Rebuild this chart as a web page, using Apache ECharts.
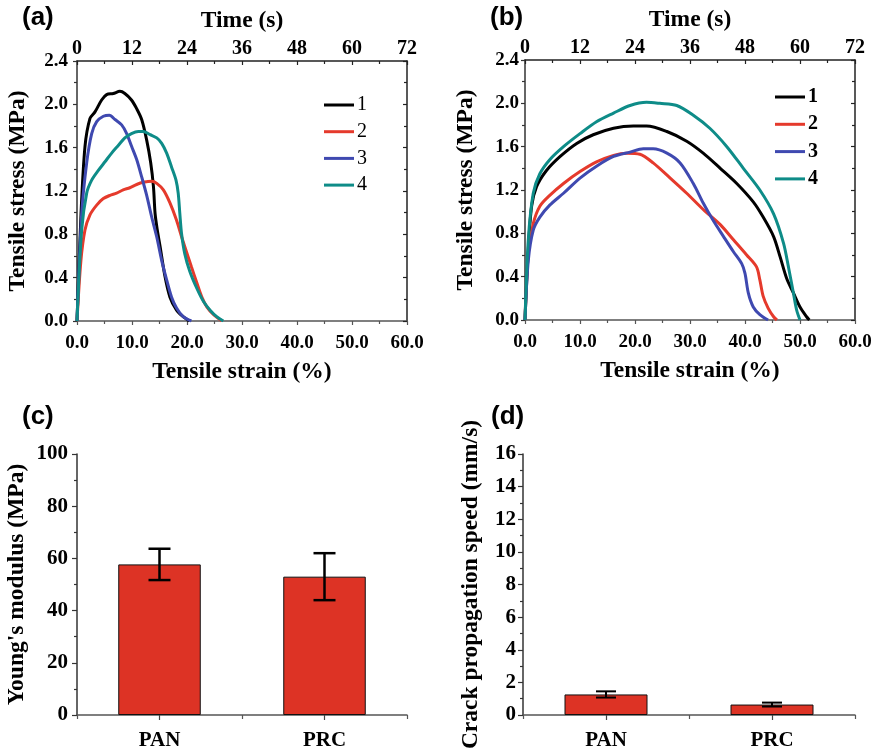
<!DOCTYPE html>
<html>
<head>
<meta charset="utf-8">
<script src="https://cdn.jsdelivr.net/npm/echarts@6/dist/echarts.min.js"></script>
<style>
html,body{margin:0;padding:0;background:#fff;}
#chart{width:877px;height:756px;}
</style>
</head>
<body>
<div id="chart"></div>
<script>
// ---------- Data ----------
var seriesNames = ['1', '2', '3', '4'];
var seriesColors = ['#000000', '#E53A2C', '#3F49B0', '#0E8C88'];

// Panel (a)
var a1Strain = [0, 0.73, 1.45, 2.36, 3.27, 4.48, 5.39, 6.6, 7.8, 8.7, 9.9, 10.85, 11.76, 12.67, 13.4, 13.9, 14.2, 14.6, 15.1, 16.0, 16.9, 18.1, 19.3, 20.4];
var a1Stress = [0, 0.99, 1.61, 1.87, 1.93, 2.04, 2.09, 2.10, 2.12, 2.10, 2.04, 1.96, 1.86, 1.67, 1.46, 1.24, 0.99, 0.84, 0.69, 0.41, 0.22, 0.10, 0.04, 0];
var a2Strain = [0, 0.7, 1.45, 2.36, 3.58, 4.79, 6.0, 7.2, 8.4, 9.6, 10.85, 12.06, 13.6, 14.5, 15.7, 16.9, 18.1, 19.0, 19.9, 20.8, 21.8, 22.7, 23.6, 24.8, 26.3];
var a2Stress = [0, 0.55, 0.84, 0.98, 1.07, 1.13, 1.16, 1.18, 1.21, 1.23, 1.26, 1.28, 1.29, 1.27, 1.21, 1.09, 0.93, 0.78, 0.64, 0.50, 0.35, 0.22, 0.13, 0.06, 0];
var a3Strain = [0, 0.85, 1.76, 2.67, 3.58, 4.79, 5.88, 6.91, 8.12, 9.03, 9.94, 10.85, 11.76, 12.67, 13.58, 14.48, 15.39, 16.3, 17.2, 18.1, 19.3, 20.8];
var a3Stress = [0, 0.99, 1.46, 1.73, 1.84, 1.89, 1.90, 1.86, 1.81, 1.73, 1.61, 1.49, 1.33, 1.16, 0.96, 0.78, 0.56, 0.38, 0.22, 0.12, 0.04, 0];
var a4Strain = [0, 0.85, 1.76, 2.67, 3.88, 5.09, 6.3, 7.5, 8.7, 9.9, 11.15, 12.06, 13.3, 14.5, 15.4, 16.3, 17.2, 18.0, 18.4, 18.7, 19.0, 19.6, 20.5, 21.8, 23.0, 24.2, 25.4, 26.6];
var a4Stress = [0, 0.84, 1.18, 1.30, 1.39, 1.47, 1.55, 1.62, 1.69, 1.73, 1.75, 1.75, 1.72, 1.69, 1.64, 1.55, 1.42, 1.30, 1.18, 0.99, 0.81, 0.62, 0.46, 0.30, 0.18, 0.10, 0.04, 0];

// Panel (b)
var b1Strain = [0, 0.6, 1.2, 2.1, 3.9, 6.4, 9.4, 12.4, 16.1, 19.7, 22.1, 25.8, 29.4, 32.4, 35.5, 38.5, 41.5, 43.3, 45.2, 46.4, 47.6, 48.8, 50.0, 51.2, 51.7];
var b1Stress = [0, 0.65, 1.05, 1.23, 1.38, 1.51, 1.63, 1.71, 1.77, 1.79, 1.79, 1.74, 1.65, 1.54, 1.40, 1.26, 1.09, 0.95, 0.77, 0.58, 0.38, 0.25, 0.12, 0.03, 0];
var b2Strain = [0, 0.6, 1.5, 2.7, 4.5, 7.0, 10.0, 13.0, 16.1, 18.5, 20.9, 23.3, 26.4, 29.4, 32.4, 35.5, 37.9, 40.3, 42.1, 42.7, 43.3, 44.2, 45.2, 45.8];
var b2Stress = [0, 0.62, 0.89, 1.05, 1.15, 1.26, 1.37, 1.46, 1.52, 1.54, 1.53, 1.45, 1.31, 1.17, 1.02, 0.88, 0.74, 0.60, 0.49, 0.37, 0.22, 0.11, 0.03, 0];
var b3Strain = [0, 0.6, 1.5, 2.7, 4.5, 7.0, 10.0, 13.0, 16.1, 19.1, 21.5, 23.3, 25.8, 28.2, 30.6, 32.4, 34.2, 36.1, 37.9, 39.4, 40.0, 40.6, 41.5, 42.7, 44.2];
var b3Stress = [0, 0.55, 0.83, 0.95, 1.06, 1.17, 1.31, 1.42, 1.51, 1.55, 1.58, 1.58, 1.54, 1.45, 1.26, 1.08, 0.92, 0.77, 0.63, 0.52, 0.43, 0.25, 0.12, 0.05, 0];
var b4Strain = [0, 0.6, 1.5, 2.7, 4.5, 7.0, 10.0, 13.0, 16.1, 19.1, 22.1, 24.5, 27.6, 30.6, 33.6, 36.7, 39.7, 42.7, 45.2, 47.0, 47.9, 48.8, 49.4, 50.0];
var b4Stress = [0, 0.74, 1.17, 1.35, 1.48, 1.60, 1.72, 1.83, 1.91, 1.98, 2.01, 2.00, 1.98, 1.89, 1.77, 1.60, 1.40, 1.20, 0.98, 0.71, 0.49, 0.25, 0.09, 0];

// Panels (c) and (d)
var barCategories = ['PAN', 'PRC'];
var modulusMean = [57.7, 53.0];
var modulusErr = [6.0, 9.0];
var crackMean = [1.26, 0.64];
var crackErr = [0.19, 0.12];

// Tick settings
var strainMax = 60, strainStep = 10;
var timeMax = 72, timeStep = 12;
var stressMax = 2.4, stressStep = 0.4;
var modulusMax = 100, modulusStep = 20;
var crackMax = 16, crackStep = 2;

// ---------- Helpers ----------
function pairs(xs, ys) { return xs.map(function (x, i) { return [x, ys[i]]; }); }
var SERIF = '"Liberation Serif", "Times New Roman", serif';
var SANS = '"Liberation Sans", Arial, sans-serif';
var labelStyle = { fontFamily: SERIF, fontWeight: 'bold', fontSize: 19, color: '#000' };
var nameStyle = { fontFamily: SERIF, fontWeight: 'bold', fontSize: 23.5, color: '#000' };

function bottomValueAxis(grid, max, step) {
  return {
    type: 'value', gridIndex: grid, position: 'bottom', min: 0, max: max, interval: step,
    name: 'Tensile strain (%)', nameLocation: 'middle', nameGap: 39, nameTextStyle: nameStyle,
    axisLine: { show: true, lineStyle: { color: '#555', width: 1.5 } },
    axisTick: { show: true, inside: false, length: 4, lineStyle: { color: '#555', width: 1.2 } },
    minorTick: { show: true, splitNumber: 2, length: 3, lineStyle: { color: '#555', width: 1.2 } },
    axisLabel: Object.assign({ margin: 13, formatter: function (v) { return v.toFixed(1); } }, labelStyle),
    splitLine: { show: false }
  };
}
function topTimeAxis(grid) {
  return {
    type: 'value', gridIndex: grid, position: 'top', min: 0, max: timeMax, interval: timeStep,
    name: 'Time (s)', nameLocation: 'middle', nameGap: 28, nameTextStyle: nameStyle,
    axisLine: { show: true, onZero: false, lineStyle: { color: '#222', width: 1.5 } },
    axisTick: { show: true, inside: true, length: 4, lineStyle: { color: '#222', width: 1.2 } },
    minorTick: { show: true, splitNumber: 2, length: 3, lineStyle: { color: '#222', width: 1.2 } },
    axisLabel: Object.assign({ margin: 2 }, labelStyle, { fontSize: 20 }),
    splitLine: { show: false }
  };
}
function leftStressAxis(grid, margin) {
  return {
    type: 'value', gridIndex: grid, position: 'left', min: 0, max: stressMax, interval: stressStep,
    name: 'Tensile stress (MPa)', nameLocation: 'middle', nameGap: 47, nameTextStyle: nameStyle,
    axisLine: { show: true, lineStyle: { color: '#333', width: 1.5 } },
    axisTick: { show: true, inside: false, length: 4, lineStyle: { color: '#333', width: 1.2 } },
    minorTick: { show: true, splitNumber: 2, length: 3, lineStyle: { color: '#333', width: 1.2 } },
    axisLabel: Object.assign({ margin: margin, formatter: function (v) { return v.toFixed(1); } }, labelStyle),
    splitLine: { show: false }
  };
}
function rightStressAxis(grid) {
  return {
    type: 'value', gridIndex: grid, position: 'right', min: 0, max: stressMax, interval: stressStep,
    axisLine: { show: true, onZero: false, lineStyle: { color: '#222', width: 1.5 } },
    axisTick: { show: true, inside: true, length: 4, lineStyle: { color: '#222', width: 1.2 } },
    minorTick: { show: true, splitNumber: 2, length: 3, lineStyle: { color: '#222', width: 1.2 } },
    axisLabel: { show: false },
    splitLine: { show: false }
  };
}
function catAxis(grid, margin) {
  return {
    type: 'category', gridIndex: grid, data: barCategories, position: 'bottom',
    axisLine: { show: true, lineStyle: { color: '#555', width: 1.5 } },
    axisTick: { show: true, alignWithLabel: true, inside: false, length: 5, lineStyle: { color: '#444', width: 1.2 } },
    axisLabel: Object.assign({ margin: margin, interval: 0 }, labelStyle, { fontSize: 21 }),
    splitLine: { show: false }
  };
}
function catBoundaryAxis(grid) {
  return {
    type: 'category', gridIndex: grid, data: barCategories, position: 'bottom',
    axisLine: { show: false },
    axisTick: { show: true, inside: false, length: 4, lineStyle: { color: '#555', width: 1.2 } },
    axisLabel: { show: false },
    splitLine: { show: false }
  };
}
function barValueAxis(grid, max, step, name, gap, margin) {
  return {
    type: 'value', gridIndex: grid, position: 'left', min: 0, max: max, interval: step,
    name: name, nameLocation: 'middle', nameGap: gap, nameTextStyle: nameStyle,
    axisLine: { show: true, lineStyle: { color: '#333', width: 1.5 } },
    axisTick: { show: true, inside: false, length: 5, lineStyle: { color: '#333', width: 1.2 } },
    minorTick: { show: true, splitNumber: 2, length: 3, lineStyle: { color: '#333', width: 1.2 } },
    axisLabel: Object.assign({ margin: margin }, labelStyle, { fontSize: 21 }),
    splitLine: { show: false }
  };
}
function lineSeries(name, idx, xs, ys, xAxisIndex, yAxisIndex) {
  return {
    type: 'line', name: name, xAxisIndex: xAxisIndex, yAxisIndex: yAxisIndex,
    data: pairs(xs, ys), symbol: 'none', showSymbol: false, smooth: 0.3,
    lineStyle: { color: seriesColors[idx], width: 3 }, itemStyle: { color: seriesColors[idx] },
    silent: true, animation: false, z: 3
  };
}
function errorSeries(means, errs, xAxisIndex, yAxisIndex, halfCap, lw) {
  return {
    type: 'custom', xAxisIndex: xAxisIndex, yAxisIndex: yAxisIndex,
    data: means.map(function (m, i) { return [i, m + errs[i], m - errs[i]]; }),
    encode: { x: 0, y: [1, 2] }, z: 5, silent: true, animation: false,
    renderItem: function (params, api) {
      var i = api.value(0);
      var hi = api.coord([i, api.value(1)]);
      var lo = api.coord([i, api.value(2)]);
      var st = { stroke: '#000', lineWidth: lw };
      return {
        type: 'group', children: [
          { type: 'line', shape: { x1: hi[0], y1: hi[1], x2: lo[0], y2: lo[1] }, style: st },
          { type: 'line', shape: { x1: hi[0] - halfCap, y1: hi[1], x2: hi[0] + halfCap, y2: hi[1] }, style: st },
          { type: 'line', shape: { x1: lo[0] - halfCap, y1: lo[1], x2: lo[0] + halfCap, y2: lo[1] }, style: st }
        ]
      };
    }
  };
}
function barSeries(values, xAxisIndex, yAxisIndex) {
  return {
    type: 'bar', data: values, xAxisIndex: xAxisIndex, yAxisIndex: yAxisIndex, barWidth: '50%',
    itemStyle: { color: '#DD3325', borderColor: '#111', borderWidth: 1 }, silent: true, animation: false
  };
}

var chart = echarts.init(document.getElementById('chart'), null, { renderer: 'canvas' });
var panelTitle = { fontFamily: SANS, fontWeight: 'bold', fontSize: 26, color: '#000' };

function legendFor(left, top, gap, weight) {
  return {
    orient: 'vertical', left: left, top: top, padding: 0, itemWidth: 30, itemHeight: 3, itemGap: gap,
    icon: 'rect', data: seriesNames, selectedMode: false,
    textStyle: { fontFamily: SERIF, fontSize: 20, fontWeight: weight, color: '#000', lineHeight: 14, padding: [0, 0, 0, -2] }
  };
}

var option = {
  animation: false,
  backgroundColor: '#fff',
  title: [
    { text: '(a)', left: 22, top: 5, textStyle: panelTitle, padding: 0 },
    { text: '(b)', left: 490, top: 5, textStyle: panelTitle, padding: 0 },
    { text: '(c)', left: 22, top: 404, textStyle: panelTitle, padding: 0 },
    { text: '(d)', left: 491, top: 404, textStyle: panelTitle, padding: 0 }
  ],
  legend: [
    legendFor(324, 95, 6.7, 'normal'),
    legendFor(775, 87, 7.3, 'bold')
  ],
  grid: [
    { left: 77, top: 61, width: 330, height: 260 },
    { left: 525, top: 60, width: 330, height: 260 },
    { left: 77, top: 454, width: 330, height: 261 },
    { left: 523, top: 454, width: 332, height: 261 }
  ],
  xAxis: [
    bottomValueAxis(0, strainMax, strainStep),
    topTimeAxis(0),
    bottomValueAxis(1, strainMax, strainStep),
    topTimeAxis(1),
    catAxis(2, 15),
    catBoundaryAxis(2),
    catAxis(3, 15),
    catBoundaryAxis(3)
  ],
  yAxis: [
    leftStressAxis(0, 9),
    rightStressAxis(0),
    leftStressAxis(1, 6),
    rightStressAxis(1),
    barValueAxis(2, modulusMax, modulusStep, "Young's modulus (MPa)", 48, 9),
    barValueAxis(3, crackMax, crackStep, 'Crack propagation speed (mm/s)', 40, 7)
  ],
  series: [
    lineSeries('1', 0, a1Strain, a1Stress, 0, 0),
    lineSeries('2', 1, a2Strain, a2Stress, 0, 0),
    lineSeries('3', 2, a3Strain, a3Stress, 0, 0),
    lineSeries('4', 3, a4Strain, a4Stress, 0, 0),
    lineSeries('1', 0, b1Strain, b1Stress, 2, 2),
    lineSeries('2', 1, b2Strain, b2Stress, 2, 2),
    lineSeries('3', 2, b3Strain, b3Stress, 2, 2),
    lineSeries('4', 3, b4Strain, b4Stress, 2, 2),
    barSeries(modulusMean, 4, 4),
    errorSeries(modulusMean, modulusErr, 4, 4, 11, 2.5),
    barSeries(crackMean, 6, 5),
    errorSeries(crackMean, crackErr, 6, 5, 10, 2)
  ]
};
chart.setOption(option);
</script>
</body>
</html>
